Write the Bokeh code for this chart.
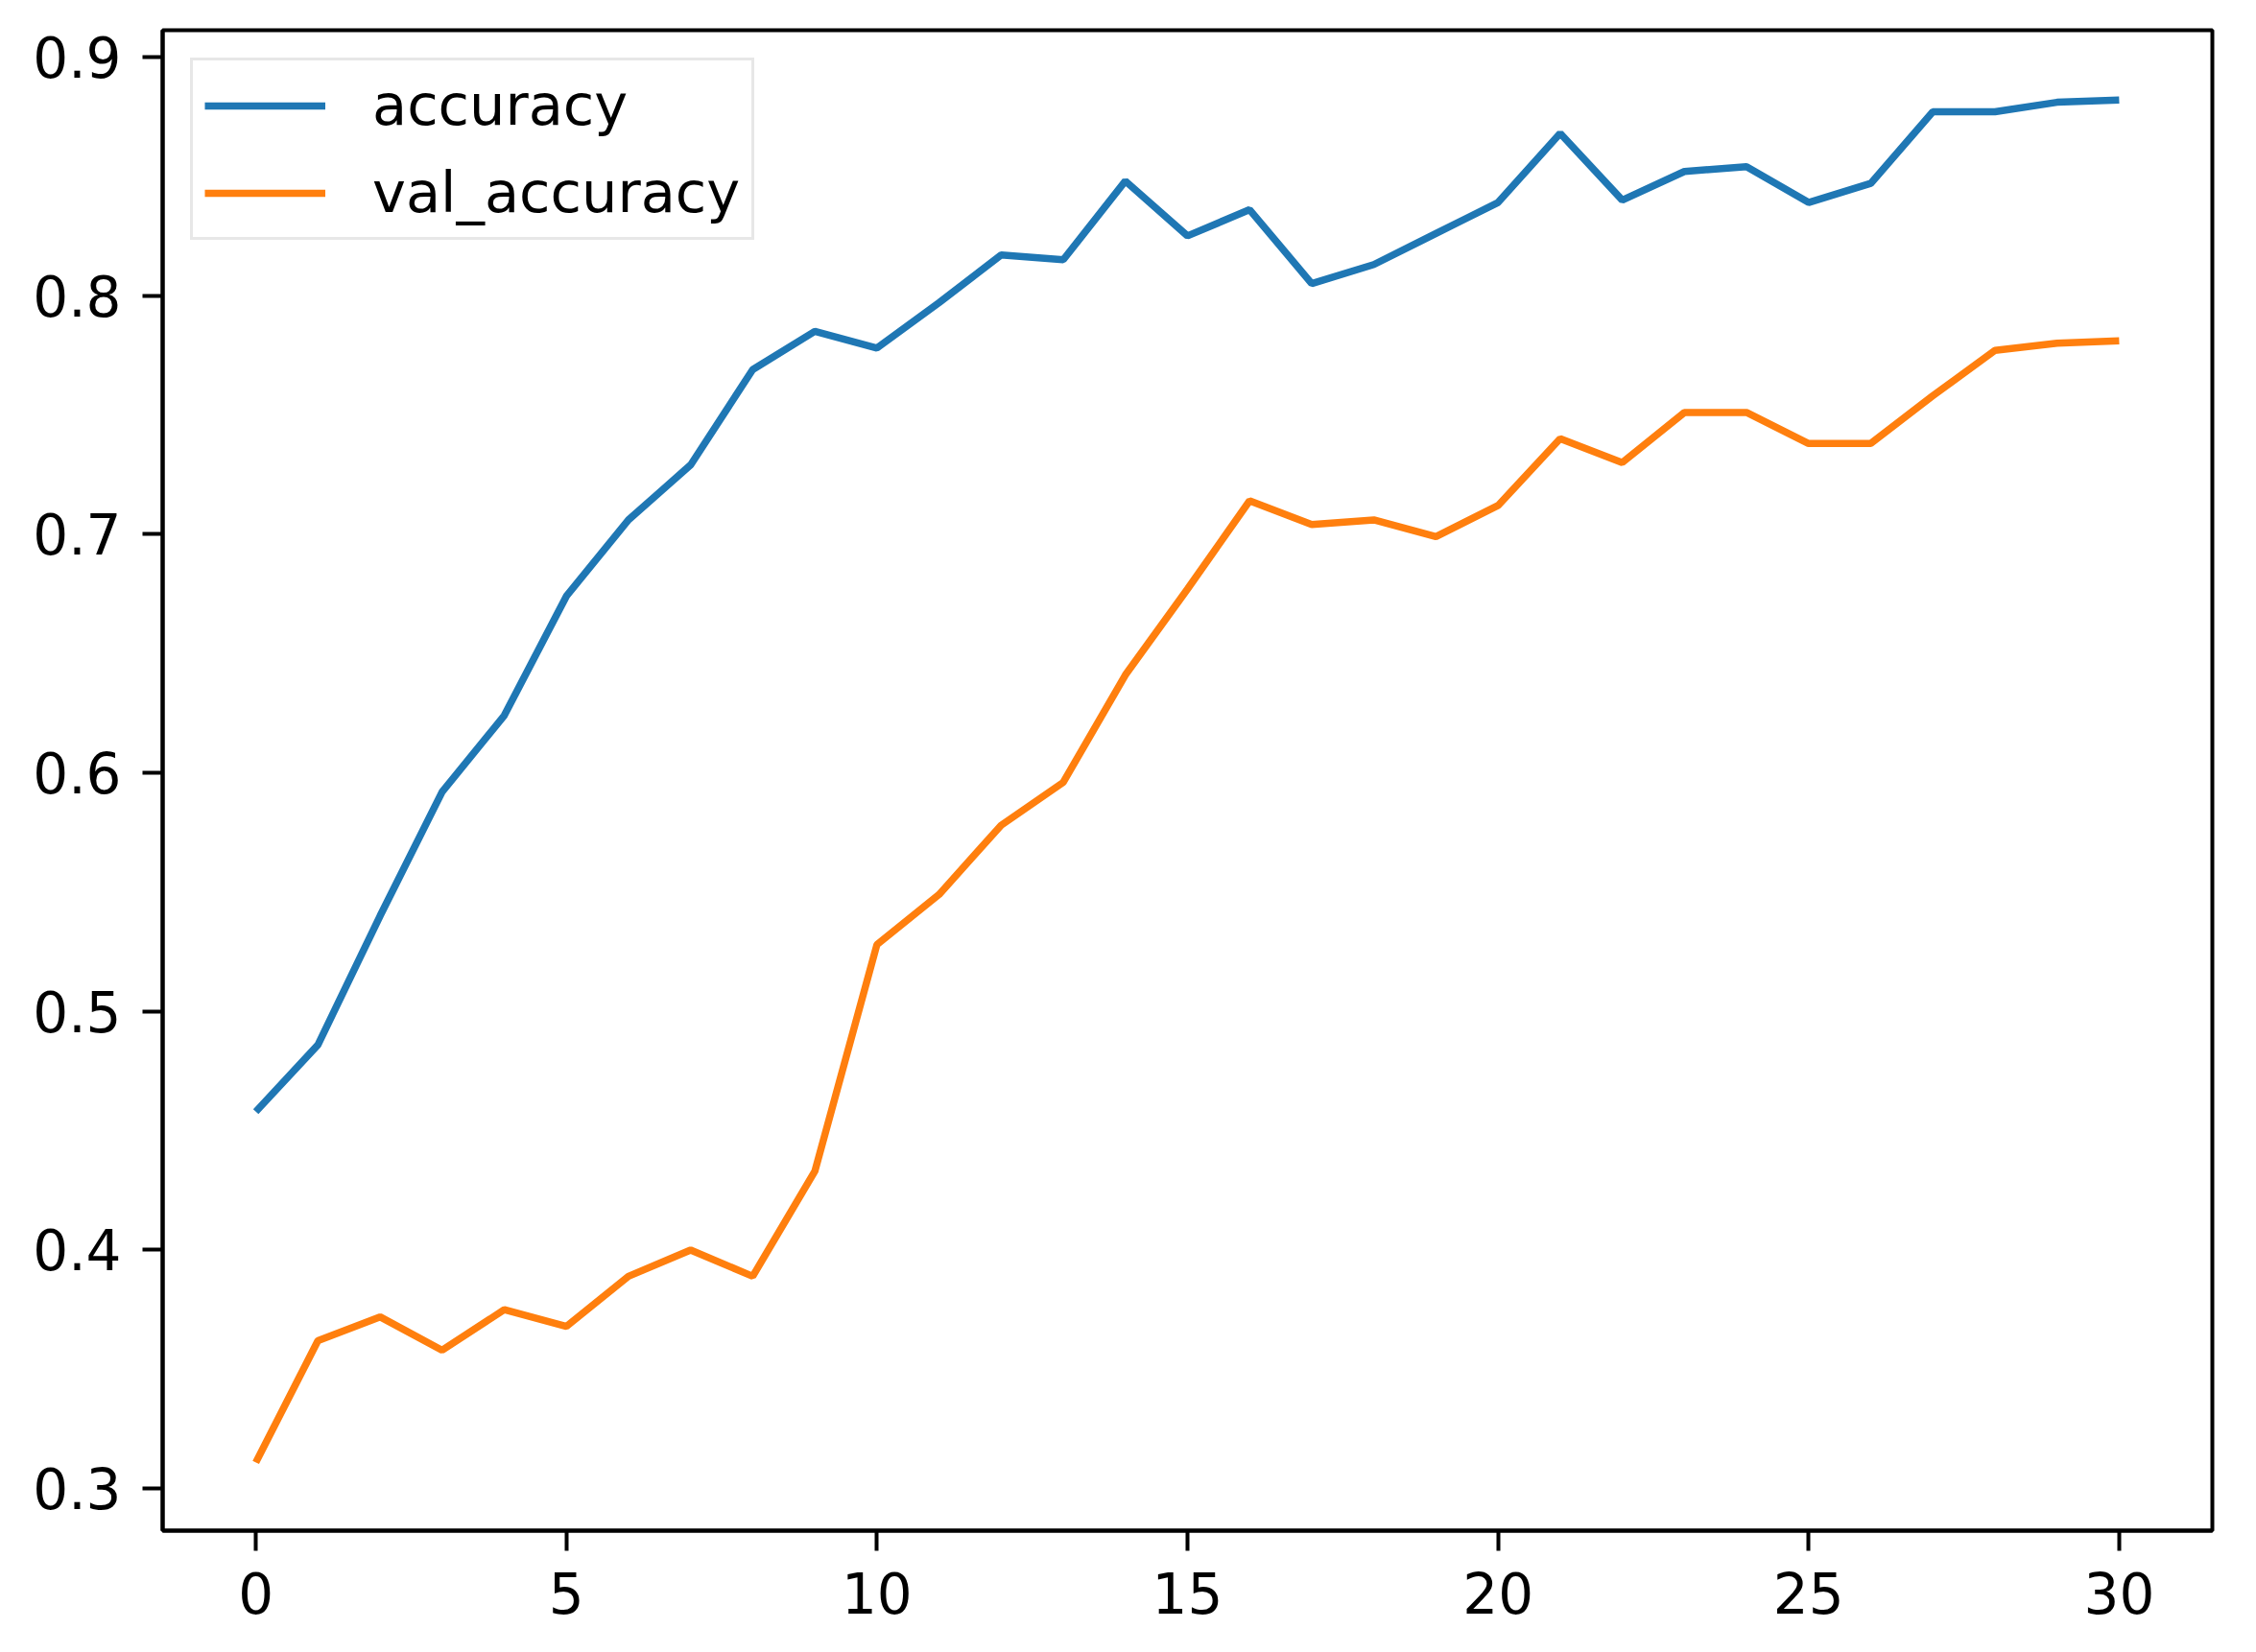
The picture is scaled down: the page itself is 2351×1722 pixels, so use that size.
from bokeh.plotting import figure
from bokeh.embed import file_html
from bokeh.resources import INLINE
from bokeh.models import Range1d, FixedTicker, NumeralTickFormatter

epochs = list(range(31))
accuracy = [0.458, 0.486, 0.540, 0.592, 0.624, 0.674, 0.706, 0.729, 0.769, 0.785,
            0.778, 0.797, 0.817, 0.815, 0.848, 0.825, 0.836, 0.805, 0.813, 0.826,
            0.839, 0.868, 0.840, 0.852, 0.854, 0.839, 0.847, 0.877, 0.877, 0.881,
            0.882]
val_accuracy = [0.311, 0.362, 0.372, 0.358, 0.375, 0.368, 0.389, 0.400, 0.389, 0.433,
                0.528, 0.549, 0.578, 0.596, 0.641, 0.677, 0.714, 0.704, 0.706, 0.699,
                0.712, 0.740, 0.730, 0.751, 0.751, 0.738, 0.738, 0.758, 0.777, 0.780,
                0.781]
x_ticks = [0, 5, 10, 15, 20, 25, 30]
y_ticks = [0.3, 0.4, 0.5, 0.6, 0.7, 0.8, 0.9]

W, H = 2335, 1706
p = figure(width=W, height=H, output_backend="svg", toolbar_location=None,
           x_range=Range1d(-1.5, 31.5), y_range=Range1d(0.2824, 0.9112),
           min_border_left=169, min_border_right=30, min_border_top=31,
           min_border_bottom=111)

p.line(epochs, accuracy, line_color="#1f77b4", line_width=7.5, legend_label="accuracy")
p.line(epochs, val_accuracy, line_color="#ff7f0e", line_width=7.5, legend_label="val_accuracy")

p.xgrid.visible = False
p.ygrid.visible = False
p.background_fill_color = "white"
p.border_fill_color = "white"
p.outline_line_color = "black"
p.outline_line_width = 4

for ax in (p.xaxis[0], p.yaxis[0]):
    ax.axis_line_width = 4
    ax.axis_line_color = "black"
    ax.major_tick_line_width = 4
    ax.major_tick_line_color = "black"
    ax.major_tick_out = 21
    ax.major_tick_in = 0
    ax.minor_tick_line_color = None
    ax.major_label_text_font = "DejaVu Sans"
    ax.major_label_text_font_size = "58px"
    ax.major_label_text_color = "black"
    ax.major_label_standoff = 22

p.xaxis[0].ticker = FixedTicker(ticks=x_ticks)
p.yaxis[0].ticker = FixedTicker(ticks=y_ticks)
p.yaxis[0].formatter = NumeralTickFormatter(format="0.0")

lg = p.legend[0]
lg.location = "top_left"
lg.margin = 29
lg.padding = 12
lg.spacing = 22
lg.glyph_width = 126
lg.glyph_height = 56
lg.label_height = 56
lg.label_standoff = 49
lg.label_text_font = "DejaVu Sans"
lg.label_text_font_size = "59px"
lg.label_text_color = "black"
lg.border_line_color = "#d0d0d0"
lg.border_line_width = 3
lg.background_fill_alpha = 0.8

open("out.html", "w").write(file_html(p, INLINE))
